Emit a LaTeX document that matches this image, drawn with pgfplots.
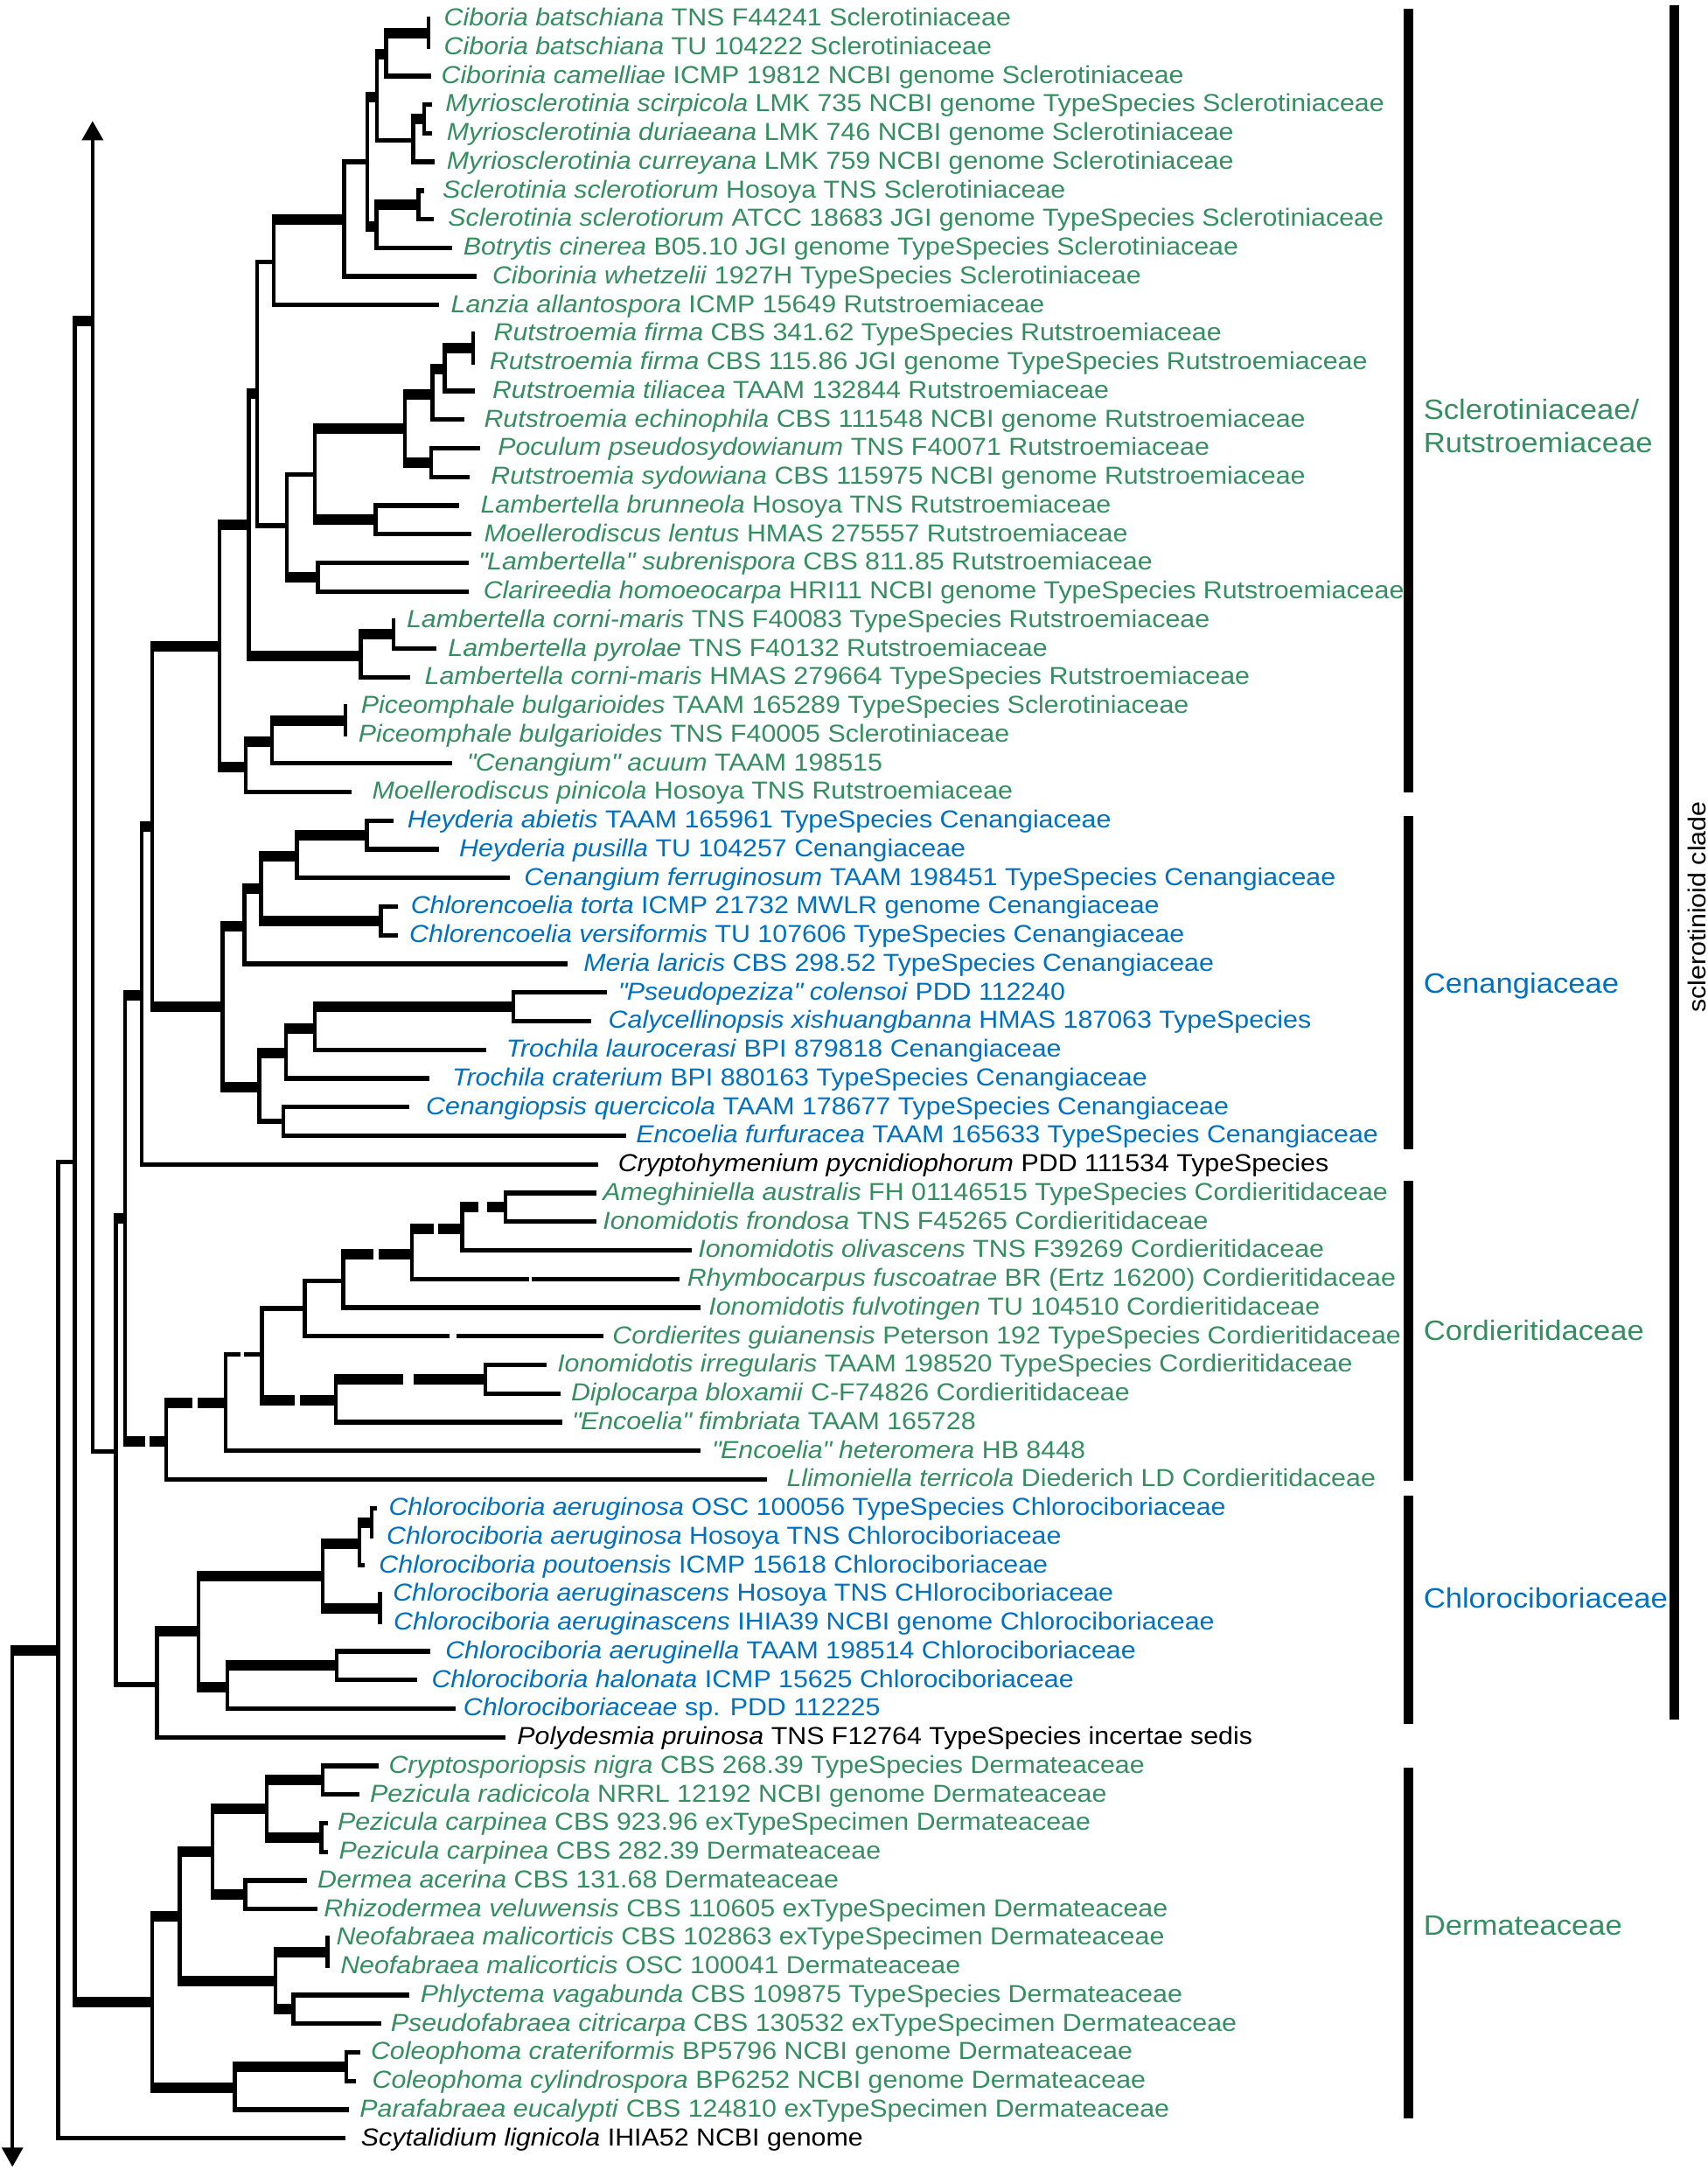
\documentclass[border=0pt]{standalone}
\usepackage{pgfplots}
\pgfplotsset{compat=1.18}
\usepackage{fontspec}
\setmainfont{Liberation Sans}[FakeStretch=1.08]
\usetikzlibrary{arrows.meta}
\definecolor{cg}{RGB}{52,142,96}
\definecolor{cb}{RGB}{0,112,192}
\newcommand{\q}{\textquotedbl{}}
\tikzset{
  vln/.style={black, line width=1.4pt, line cap=rect},
  thk/.style={black, line width=3.8pt, shorten <=-0.7pt},
  thn/.style={black, line width=1.7pt, shorten <=-0.7pt},
  lab/.style={anchor=mid west, inner sep=0pt, font=\fontsize{8.9}{10}\selectfont},
  big/.style={anchor=mid west, inner sep=0pt, font=\fontsize{10.15}{12}\selectfont},
}
\newcommand{\V}[3]{\addplot[vln] coordinates {(#1,#2) (#1,#3)};}
\newcommand{\Hk}[3]{\addplot[thk] coordinates {(#1,#3) (#2,#3)};}
\newcommand{\Hn}[3]{\addplot[thn] coordinates {(#1,#3) (#2,#3)};}
\newcommand{\Hkd}[5]{\addplot[thk] coordinates {(#1,#5) (#2,#5)};\addplot[thk] coordinates {(#3,#5) (#4,#5)};}
\newcommand{\Hnd}[5]{\addplot[thn] coordinates {(#1,#5) (#2,#5)};\addplot[thn] coordinates {(#3,#5) (#4,#5)};}
\newcommand{\Lb}[4]{\node[lab, text=#4] at (axis cs:#1,#2) {#3};}
\begin{document}
\begin{tikzpicture}
\begin{axis}[scale only axis, width=618pt, height=784pt,
  xmin=0, xmax=1236, ymin=0.4694, ymax=76.11, y dir=reverse,
  hide axis, clip=false]
\path (rel axis cs:0,0) rectangle (rel axis cs:1,1);
% ---------------- Sclerotiniaceae
\V{310}{1}{2} \Hk{279.5}{310}{1.5}
\Hn{279.5}{312}{3}
\V{279.5}{1.5}{3} \Hk{273}{279.5}{2.25}
\V{307}{4}{5} \Hn{307}{313}{4} \Hn{307}{313}{5} \Hk{299}{307}{4.5}
\Hn{299}{314.5}{6}
\V{299}{4.5}{6} \Hn{273}{299}{5.25}
\V{273}{2.25}{5.25} \Hk{266}{273}{3.75}
\V{303}{7}{8} \Hn{303}{307}{7} \Hn{303}{314}{8} \Hk{272.5}{303}{7.5}
\Hn{272.5}{327}{9}
\V{272.5}{7.5}{9} \Hk{266}{272.5}{8.25}
\V{266}{3.75}{8.25} \Hn{249}{266}{6}
\Hn{249}{345}{10}
\V{249}{6}{10} \Hk{198}{249}{8}
\Hn{198}{317.5}{11}
\V{198}{8}{11} \Hn{186}{198}{9.5}
% Rutstroemia
\V{342.5}{12}{13} \Hk{322}{342.5}{12.5}
\Hn{322}{344}{14}
\V{322}{12.5}{14} \Hk{313}{322}{13.25}
\Hn{313}{336}{15}
\V{313}{13.25}{15} \Hk{293}{313}{14.125}
\V{312}{16}{17} \Hn{312}{347.5}{16} \Hn{312}{340}{17} \Hk{293}{312}{16.5}
\V{293}{14.125}{16.5} \Hk{228}{293}{15.3125}
\V{272}{18}{19} \Hn{272}{332.5}{18} \Hn{272}{341}{19} \Hk{228}{272}{18.5}
\V{228}{15.3125}{18.5} \Hn{207.5}{228}{16.906}
\V{230}{20}{21} \Hn{230}{339}{20} \Hn{230}{339}{21} \Hk{207.5}{230}{20.5}
\V{207.5}{16.906}{20.5} \Hn{186}{207.5}{18.703}
\V{186}{9.5}{18.703} \Hk{180}{186}{14.10}
\V{285}{22}{23} \Hn{285}{316}{23} \Hk{261}{285}{22.5}
\Hn{261}{297}{24}
\V{261}{22.5}{24} \Hk{180}{261}{23.25}
\V{180}{14.10}{23.25} \Hk{159}{180}{18.68}
\V{250}{25}{26} \Hk{197}{250}{25.5}
\Hn{197}{327}{27}
\V{197}{25.5}{27} \Hk{178}{197}{26.25}
\Hn{178}{254.5}{28}
\V{178}{26.25}{28} \Hk{159}{178}{27.125}
\V{159}{18.68}{27.125} \Hk{110}{159}{22.90}
% ---------------- Cenangiaceae
\V{265.5}{29}{30} \Hn{265.5}{285}{29} \Hn{265.5}{318}{30} \Hk{215}{265.5}{29.5}
\Hn{215}{369}{31}
\V{215}{29.5}{31} \Hk{189}{215}{30.25}
\V{275.6}{32}{33} \Hn{275.6}{288}{32} \Hn{275.6}{288}{33} \Hk{188.5}{275.6}{32.5}
\V{189}{30.25}{32.5} \Hk{177}{189}{31.375}
\Hn{177}{411}{34}
\V{177}{31.375}{34} \Hk{161}{177}{32.69}
\V{371.5}{35}{36} \Hn{371.5}{439}{35} \Hn{371.5}{428}{36} \Hk{228}{371.5}{35.5}
\Hn{228}{352}{37}
\V{228}{35.5}{37} \Hk{207}{228}{36.25}
\Hn{207}{311}{38}
\V{207}{36.25}{38} \Hk{187.6}{207}{37.125}
\V{205}{39}{40} \Hn{205}{296}{39} \Hn{205}{453}{40} \Hn{187.6}{205}{39.5}
\V{187.6}{37.125}{39.5} \Hk{161}{187.6}{38.31}
\V{161}{32.69}{38.31} \Hk{110}{161}{35.5}
\V{110}{22.90}{35.5} \Hk{102.5}{110}{29.2}
\Hn{102.5}{433}{41}
\V{102.5}{29.2}{41} \Hk{90.7}{102.5}{35.1}
% ---------------- Cordieritidaceae
\V{365.7}{42}{43} \Hn{365.7}{431.7}{42} \Hn{365.7}{431.7}{43}
\Hkd{334.5}{346.5}{353.7}{365.7}{42.5}
\Hn{334.5}{500.7}{44}
\V{334.5}{42.5}{44} \Hkd{298.2}{313.8}{318.5}{334.5}{43.25}
\Hnd{298.2}{382.8}{386.4}{492}{45}
\V{298.2}{43.25}{45} \Hkd{248.5}{270.3}{275.7}{298.2}{44.125}
\Hn{248.5}{507}{46}
\V{248.5}{44.125}{46} \Hn{220.6}{248.5}{45.06}
\Hnd{220.6}{325.4}{332}{437}{47}
\V{220.6}{45.06}{47} \Hn{189.7}{220.6}{46.03}
\V{351.2}{48}{49} \Hn{351.2}{395.5}{48} \Hn{351.2}{405.6}{49}
\Hkd{243}{292}{301}{351.2}{48.5}
\Hn{243}{407}{50}
\V{243}{48.5}{50} \Hkd{189.7}{213.3}{218.8}{243}{49.25}
\V{189.7}{46.03}{49.25} \Hnd{163.3}{174.1}{177.8}{189.7}{47.64}
\Hn{163.3}{507}{51}
\V{163.3}{47.64}{51} \Hkd{120.4}{139}{144.4}{163.3}{49.32}
\Hn{120.4}{555}{52}
\V{120.4}{49.32}{52} \Hkd{90.7}{105.2}{109.9}{120.4}{50.66}
\V{90.7}{35.1}{50.66} \Hk{84}{90.7}{42.88}
% ---------------- Chlorociboriaceae
\V{269}{53}{54} \Hn{269}{273}{53} \Hk{260}{269}{53.5}
\Hn{260}{264}{55}
\V{260}{53.5}{55} \Hk{233.75}{260}{54.25}
\V{275}{56}{57} \Hk{233.75}{275}{56.5}
\V{233.75}{54.25}{56.5} \Hk{143.75}{233.75}{55.375}
\V{243.75}{58}{59} \Hn{243.75}{311.75}{58} \Hn{243.75}{302}{59} \Hk{164.5}{243.75}{58.5}
\Hn{164.5}{329.5}{60}
\V{164.5}{58.5}{60} \Hk{143.75}{164.5}{59.25}
\V{143.75}{55.375}{59.25} \Hk{113.75}{143.75}{57.31}
\Hn{113.75}{366}{61}
\V{113.75}{57.31}{61} \Hn{84}{113.75}{59.16}
\V{84}{42.88}{59.16} \Hn{67}{84}{51.02}
\addplot[black, line width=1.4pt, {Triangle[width=7.5pt,length=7pt]}-] coordinates {(67,4.57) (67,51.02)};
\Hk{54}{67}{11.57}
% ---------------- Dermateaceae
\V{233.75}{62}{63} \Hn{233.75}{274}{62} \Hn{233.75}{260}{63} \Hk{193}{233.75}{62.5}
\V{232.5}{64}{65} \Hn{232.5}{237.5}{64} \Hn{232.5}{237.5}{65} \Hk{193}{232.5}{64.5}
\V{193}{62.5}{64.5} \Hk{153.75}{193}{63.5}
\V{177.5}{66}{67} \Hn{177.5}{222.5}{66} \Hn{177.5}{229.5}{67} \Hk{153.75}{177.5}{66.5}
\V{153.75}{63.5}{66.5} \Hk{130}{153.75}{65}
\V{237}{68}{69} \Hk{199.25}{237}{68.5}
\V{212.5}{70}{71} \Hn{212.5}{296}{70} \Hn{212.5}{276}{71} \Hk{199.25}{212.5}{70.5}
\V{199.25}{68.5}{70.5} \Hk{130}{199.25}{69.5}
\V{130}{65}{69.5} \Hk{110}{130}{67.25}
\V{250.5}{72}{73} \Hn{250.5}{261}{72} \Hn{250.5}{257.5}{73} \Hk{170}{250.5}{72.5}
\Hn{170}{252.5}{74}
\V{170}{72.5}{74} \Hk{110}{170}{73.25}
\V{110}{67.25}{73.25} \Hk{54}{110}{70.25}
\V{54}{11.57}{70.25} \Hn{42}{54}{40.91}
\Hn{42}{250}{75}
\V{42}{40.91}{75} \Hk{9}{42}{57.96}
\addplot[black, line width=1.4pt, -{Triangle[width=7.5pt,length=7pt]}] coordinates {(9,57.96) (9,76.0)};
% ---------------- clade bars
\addplot[black, line width=3.5pt] coordinates {(1019.5,0.643) (1019.5,28.01)};
\addplot[black, line width=3.5pt] coordinates {(1019.5,28.83) (1019.5,40.46)};
\addplot[black, line width=3.5pt] coordinates {(1019.5,41.57) (1019.5,52.04)};
\addplot[black, line width=3.5pt] coordinates {(1019.5,52.57) (1019.5,60.53)};
\addplot[black, line width=3.5pt] coordinates {(1019.5,62.07) (1019.5,74.32)};
\addplot[black, line width=3.5pt] coordinates {(1212,0.518) (1212,60.38)};
\node[big, text=cg] at (axis cs:1030,14.75) {Sclerotiniaceae/};
\node[big, text=cg] at (axis cs:1030,15.9) {Rutstroemiaceae};
\node[big, text=cb] at (axis cs:1030,34.77) {Cenangiaceae};
\node[big, text=cg] at (axis cs:1030,46.88) {Cordieritidaceae};
\node[big, text=cb] at (axis cs:1030,56.23) {Chlorociboriaceae};
\node[big, text=cg] at (axis cs:1030,67.67) {Dermateaceae};
\node[anchor=center, inner sep=0pt, rotate=90, font=\fontsize{8.9}{10}\selectfont] at (axis cs:1228,32.02) {sclerotinioid clade};
% ---------------- labels
\Lb{321}{1}{\textit{Ciboria batschiana} TNS F44241 Sclerotiniaceae}{cg}
\Lb{321}{2}{\textit{Ciboria batschiana} TU 104222 Sclerotiniaceae}{cg}
\Lb{319}{3}{\textit{Ciborinia camelliae} ICMP 19812 NCBI genome Sclerotiniaceae}{cg}
\Lb{322}{4}{\textit{Myriosclerotinia scirpicola} LMK 735 NCBI genome TypeSpecies Sclerotiniaceae}{cg}
\Lb{323}{5}{\textit{Myriosclerotinia duriaeana} LMK 746 NCBI genome Sclerotiniaceae}{cg}
\Lb{323}{6}{\textit{Myriosclerotinia curreyana} LMK 759 NCBI genome Sclerotiniaceae}{cg}
\Lb{320}{7}{\textit{Sclerotinia sclerotiorum} Hosoya TNS Sclerotiniaceae}{cg}
\Lb{324}{8}{\textit{Sclerotinia sclerotiorum} ATCC 18683 JGI genome TypeSpecies Sclerotiniaceae}{cg}
\Lb{335}{9}{\textit{Botrytis cinerea} B05.10 JGI genome TypeSpecies Sclerotiniaceae}{cg}
\Lb{356}{10}{\textit{Ciborinia whetzelii} 1927H TypeSpecies Sclerotiniaceae}{cg}
\Lb{326}{11}{\textit{Lanzia allantospora} ICMP 15649 Rutstroemiaceae}{cg}
\Lb{357}{12}{\textit{Rutstroemia firma} CBS 341.62 TypeSpecies Rutstroemiaceae}{cg}
\Lb{354}{13}{\textit{Rutstroemia firma} CBS 115.86 JGI genome TypeSpecies Rutstroemiaceae}{cg}
\Lb{356}{14}{\textit{Rutstroemia tiliacea} TAAM 132844 Rutstroemiaceae}{cg}
\Lb{350}{15}{\textit{Rutstroemia echinophila} CBS 111548 NCBI genome Rutstroemiaceae}{cg}
\Lb{360}{16}{\textit{Poculum pseudosydowianum} TNS F40071 Rutstroemiaceae}{cg}
\Lb{355}{17}{\textit{Rutstroemia sydowiana} CBS 115975 NCBI genome Rutstroemiaceae}{cg}
\Lb{347.5}{18}{\textit{Lambertella brunneola} Hosoya TNS Rutstroemiaceae}{cg}
\Lb{350}{19}{\textit{Moellerodiscus lentus} HMAS 275557 Rutstroemiaceae}{cg}
\Lb{346}{20}{\textit{\q Lambertella\q\ subrenispora} CBS 811.85 Rutstroemiaceae}{cg}
\Lb{349.5}{21}{\textit{Clarireedia homoeocarpa} HRI11 NCBI genome TypeSpecies Rutstroemiaceae}{cg}
\Lb{294}{22}{\textit{Lambertella corni-maris} TNS F40083 TypeSpecies Rutstroemiaceae}{cg}
\Lb{324}{23}{\textit{Lambertella pyrolae} TNS F40132 Rutstroemiaceae}{cg}
\Lb{307}{24}{\textit{Lambertella corni-maris} HMAS 279664 TypeSpecies Rutstroemiaceae}{cg}
\Lb{261}{25}{\textit{Piceomphale bulgarioides} TAAM 165289 TypeSpecies Sclerotiniaceae}{cg}
\Lb{259}{26}{\textit{Piceomphale bulgarioides} TNS F40005 Sclerotiniaceae}{cg}
\Lb{337.5}{27}{\textit{\q Cenangium\q\ acuum} TAAM 198515}{cg}
\Lb{269}{28}{\textit{Moellerodiscus pinicola} Hosoya TNS Rutstroemiaceae}{cg}
\Lb{294.5}{29}{\textit{Heyderia abietis} TAAM 165961 TypeSpecies Cenangiaceae}{cb}
\Lb{332}{30}{\textit{Heyderia pusilla} TU 104257 Cenangiaceae}{cb}
\Lb{379}{31}{\textit{Cenangium ferruginosum} TAAM 198451 TypeSpecies Cenangiaceae}{cb}
\Lb{297}{32}{\textit{Chlorencoelia torta} ICMP 21732 MWLR genome Cenangiaceae}{cb}
\Lb{296}{33}{\textit{Chlorencoelia versiformis} TU 107606 TypeSpecies Cenangiaceae}{cb}
\Lb{422}{34}{\textit{Meria laricis} CBS 298.52 TypeSpecies Cenangiaceae}{cb}
\Lb{447}{35}{\textit{\q Pseudopeziza\q\ colensoi} PDD 112240}{cb}
\Lb{440}{36}{\textit{Calycellinopsis xishuangbanna} HMAS 187063 TypeSpecies}{cb}
\Lb{366}{37}{\textit{Trochila laurocerasi} BPI 879818 Cenangiaceae}{cb}
\Lb{327}{38}{\textit{Trochila craterium} BPI 880163 TypeSpecies Cenangiaceae}{cb}
\Lb{308}{39}{\textit{Cenangiopsis quercicola} TAAM 178677 TypeSpecies Cenangiaceae}{cb}
\Lb{460}{40}{\textit{Encoelia furfuracea} TAAM 165633 TypeSpecies Cenangiaceae}{cb}
\Lb{447}{41}{\textit{Cryptohymenium pycnidiophorum} PDD 111534 TypeSpecies}{black}
\Lb{436}{42}{\textit{Ameghiniella australis} FH 01146515 TypeSpecies Cordieritidaceae}{cg}
\Lb{436}{43}{\textit{Ionomidotis frondosa} TNS F45265 Cordieritidaceae}{cg}
\Lb{505}{44}{\textit{Ionomidotis olivascens} TNS F39269 Cordieritidaceae}{cg}
\Lb{497}{45}{\textit{Rhymbocarpus fuscoatrae} BR (Ertz 16200) Cordieritidaceae}{cg}
\Lb{512.6}{46}{\textit{Ionomidotis fulvotingen} TU 104510 Cordieritidaceae}{cg}
\Lb{443}{47}{\textit{Cordierites guianensis} Peterson 192 TypeSpecies Cordieritidaceae}{cg}
\Lb{403}{48}{\textit{Ionomidotis irregularis} TAAM 198520 TypeSpecies Cordieritidaceae}{cg}
\Lb{413}{49}{\textit{Diplocarpa bloxamii} C-F74826 Cordieritidaceae}{cg}
\Lb{413.6}{50}{\textit{\q Encoelia\q\ fimbriata} TAAM 165728}{cg}
\Lb{515}{51}{\textit{\q Encoelia\q\ heteromera} HB 8448}{cg}
\Lb{569}{52}{\textit{Llimoniella terricola} Diederich LD Cordieritidaceae}{cg}
\Lb{281}{53}{\textit{Chlorociboria aeruginosa} OSC 100056 TypeSpecies Chlorociboriaceae}{cb}
\Lb{279.5}{54}{\textit{Chlorociboria aeruginosa} Hosoya TNS Chlorociboriaceae}{cb}
\Lb{274}{55}{\textit{Chlorociboria poutoensis} ICMP 15618 Chlorociboriaceae}{cb}
\Lb{284}{56}{\textit{Chlorociboria aeruginascens} Hosoya TNS CHlorociboriaceae}{cb}
\Lb{284.5}{57}{\textit{Chlorociboria aeruginascens} IHIA39 NCBI genome Chlorociboriaceae}{cb}
\Lb{322}{58}{\textit{Chlorociboria aeruginella} TAAM 198514 Chlorociboriaceae}{cb}
\Lb{312}{59}{\textit{Chlorociboria halonata} ICMP 15625 Chlorociboriaceae}{cb}
\Lb{335}{60}{\textit{Chlorociboriaceae} sp. PDD 112225}{cb}
\Lb{374}{61}{\textit{Polydesmia pruinosa} TNS F12764 TypeSpecies incertae sedis}{black}
\Lb{281}{62}{\textit{Cryptosporiopsis nigra} CBS 268.39 TypeSpecies Dermateaceae}{cg}
\Lb{267.5}{63}{\textit{Pezicula radicicola} NRRL 12192 NCBI genome Dermateaceae}{cg}
\Lb{244}{64}{\textit{Pezicula carpinea} CBS 923.96 exTypeSpecimen Dermateaceae}{cg}
\Lb{245}{65}{\textit{Pezicula carpinea} CBS 282.39 Dermateaceae}{cg}
\Lb{229.5}{66}{\textit{Dermea acerina} CBS 131.68 Dermateaceae}{cg}
\Lb{234}{67}{\textit{Rhizodermea veluwensis} CBS 110605 exTypeSpecimen Dermateaceae}{cg}
\Lb{243}{68}{\textit{Neofabraea malicorticis} CBS 102863 exTypeSpecimen Dermateaceae}{cg}
\Lb{246}{69}{\textit{Neofabraea malicorticis} OSC 100041 Dermateaceae}{cg}
\Lb{304}{70}{\textit{Phlyctema vagabunda} CBS 109875 TypeSpecies Dermateaceae}{cg}
\Lb{282.5}{71}{\textit{Pseudofabraea citricarpa} CBS 130532 exTypeSpecimen Dermateaceae}{cg}
\Lb{268}{72}{\textit{Coleophoma crateriformis} BP5796 NCBI genome Dermateaceae}{cg}
\Lb{269}{73}{\textit{Coleophoma cylindrospora} BP6252 NCBI genome Dermateaceae}{cg}
\Lb{260}{74}{\textit{Parafabraea eucalypti} CBS 124810 exTypeSpecimen Dermateaceae}{cg}
\Lb{261}{75}{\textit{Scytalidium lignicola} IHIA52 NCBI genome}{black}
\end{axis}
\end{tikzpicture}
\end{document}
